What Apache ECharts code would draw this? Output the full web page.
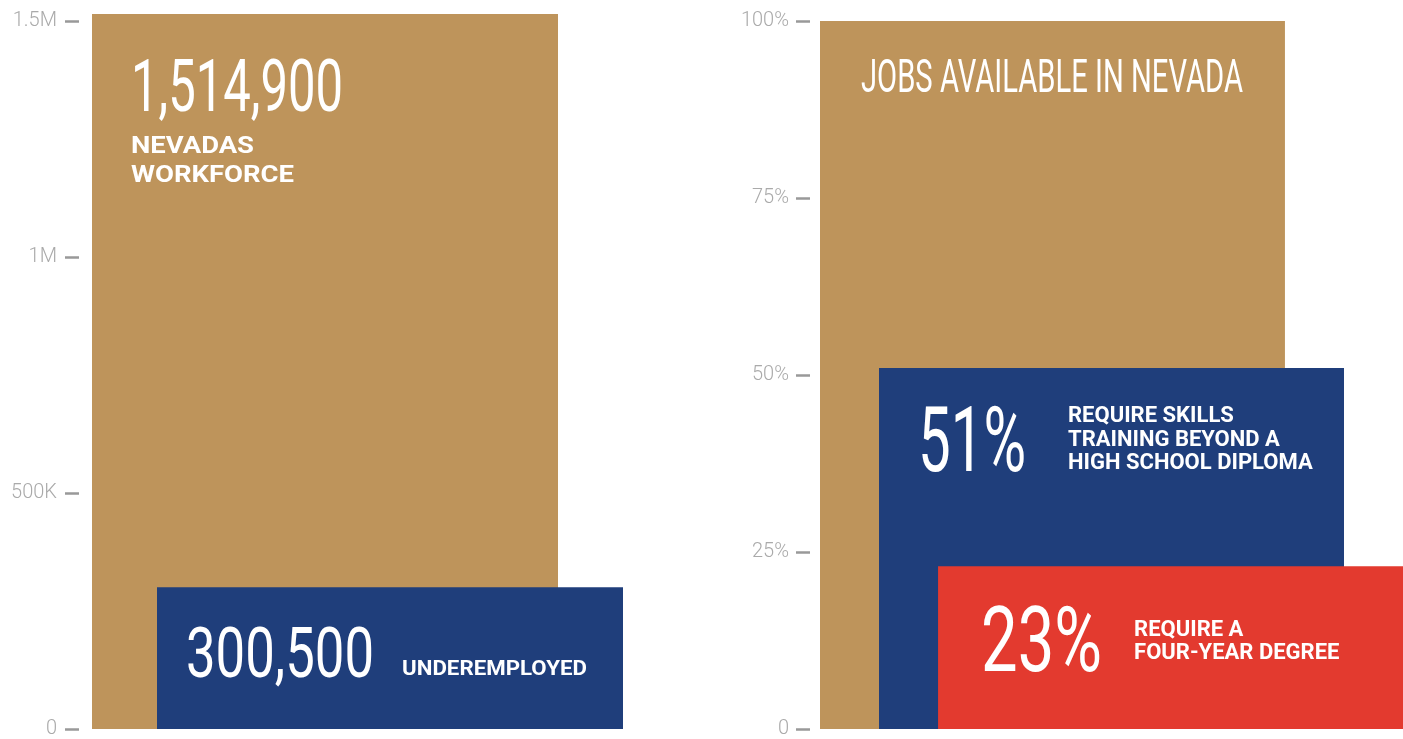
<!DOCTYPE html>
<html>
<head>
<meta charset="utf-8">
<title>Nevada workforce and jobs</title>
<style>
  html, body { margin: 0; padding: 0; background: #fff; }
  #chart { width: 1403px; height: 739px; }
</style>
<script src="https://cdn.jsdelivr.net/npm/echarts@6/dist/echarts.min.js"></script>
</head>
<body>
<div id="chart"></div>
<script>
// left panel - workforce
var workCats = ['Nevada'];
var workforce = [1514900];
var underemployed = [300500];
var workTickLabels = { 0: '0', 500000: '500K', 1000000: '1M', 1500000: '1.5M' };

// right panel - jobs available
var jobCats = ['Jobs'];
var jobsAll = [100];
var skillsJobs = [51];
var degreeJobs = [23];
var jobTickLabels = { 0: '0', 25: '25%', 50: '50%', 75: '75%', 100: '100%' };

var GOLD = '#BE945B', BLUE = '#1F3E7B', RED = '#E33A2F';

function commas(v) { return Number(v).toLocaleString('en-US'); }

var tickStyle = { show: true, length: 14, lineStyle: { color: '#999', width: 2.5 } };
function axisLabel(map, margin) {
    return {
        margin: margin, color: '#aaa', fontSize: 20, fontFamily: 'Roboto', fontWeight: 300,
        formatter: function (v) { return map[v] !== undefined ? map[v] : ''; }
    };
}

var chart = echarts.init(document.getElementById('chart'));
chart.setOption({
    animation: false,
    grid: [
        { left: 92, right: 780, top: 21, bottom: 9 },
        { left: 820, right: 0, top: 21, bottom: 9 }
    ],
    xAxis: [
        { type: 'category', gridIndex: 0, data: workCats, show: false },
        { type: 'category', gridIndex: 1, data: jobCats, show: false }
    ],
    yAxis: [
        {
            type: 'value', gridIndex: 0, min: 0, max: 1500000, interval: 500000, offset: 13,
            axisLine: { show: false }, axisTick: tickStyle, splitLine: { show: false },
            axisLabel: axisLabel(workTickLabels, 22)
        },
        {
            type: 'value', gridIndex: 1, min: 0, max: 100, interval: 25, offset: 10,
            axisLine: { show: false }, axisTick: tickStyle, splitLine: { show: false },
            axisLabel: axisLabel(jobTickLabels, 21)
        }
    ],
    series: [
        { type: 'bar', xAxisIndex: 0, yAxisIndex: 0, data: workforce, clip: false,
          barWidth: 466, barGap: '-86.05%', itemStyle: { color: GOLD } },
        { type: 'bar', xAxisIndex: 0, yAxisIndex: 0, data: underemployed, clip: false,
          barWidth: 466, barGap: '-86.05%', itemStyle: { color: BLUE } },
        { type: 'bar', xAxisIndex: 1, yAxisIndex: 1, data: jobsAll,
          barWidth: 465, barGap: '-87.3%', itemStyle: { color: GOLD } },
        { type: 'bar', xAxisIndex: 1, yAxisIndex: 1, data: skillsJobs,
          barWidth: 465, barGap: '-87.3%', itemStyle: { color: BLUE } },
        { type: 'bar', xAxisIndex: 1, yAxisIndex: 1, data: degreeJobs,
          barWidth: 465, barGap: '-87.3%', itemStyle: { color: RED } }
    ]
});

// text inside the bars, placed from each bar's own layout
var measureCtx = document.createElement('canvas').getContext('2d');
function barBox(idx) {
    var l = chart.getModel().getSeriesByIndex(idx).getData().getItemLayout(0);
    return { x: l.x, top: Math.min(l.y, l.y + l.height) };
}
// condensed look: squeeze/stretch text horizontally to a target width
function txt(box, dx, cy, text, size, weight, width) {
    var font = weight + ' ' + size + 'px Roboto';
    measureCtx.font = font;
    var sx = width ? width / measureCtx.measureText(text).width : 1;
    return {
        type: 'text', z: 100, x: box.x + dx, y: box.top + cy + size * 0.1, scaleX: sx,
        style: {
            text: text, font: font, fill: '#fff',
            textAlign: 'left', textVerticalAlign: 'middle', align: 'left', verticalAlign: 'middle'
        }
    };
}

var b0 = barBox(0), b1 = barBox(1), b2 = barBox(2), b3 = barBox(3), b4 = barBox(4);
chart.setOption({
    graphic: [
        txt(b0, 39, 71.5, commas(workforce[0]), 72, 400, 212),
        txt(b0, 39, 130.5, 'NEVADAS', 24, 'bold', 123),
        txt(b0, 39, 159.5, 'WORKFORCE', 24, 'bold', 163),

        txt(b1, 29, 65, commas(underemployed[0]), 70, 400, 188),
        txt(b1, 245, 80.5, 'UNDEREMPLOYED', 20.5, 'bold', 185),

        txt(b2, 41, 54.5, 'JOBS AVAILABLE IN NEVADA', 46, 400, 382),

        txt(b3, 39, 71, skillsJobs[0] + '%', 91, 400, 108),
        txt(b3, 189, 46.6, 'REQUIRE SKILLS', 22, 'bold'),
        txt(b3, 189, 70.6, 'TRAINING BEYOND A', 22, 'bold'),
        txt(b3, 189, 93.6, 'HIGH SCHOOL DIPLOMA', 22, 'bold'),

        txt(b4, 43, 73, degreeJobs[0] + '%', 90, 400, 121),
        txt(b4, 196, 62, 'REQUIRE A', 22, 'bold'),
        txt(b4, 196, 85, 'FOUR-YEAR DEGREE', 22, 'bold')
    ]
});
</script>
</body>
</html>
